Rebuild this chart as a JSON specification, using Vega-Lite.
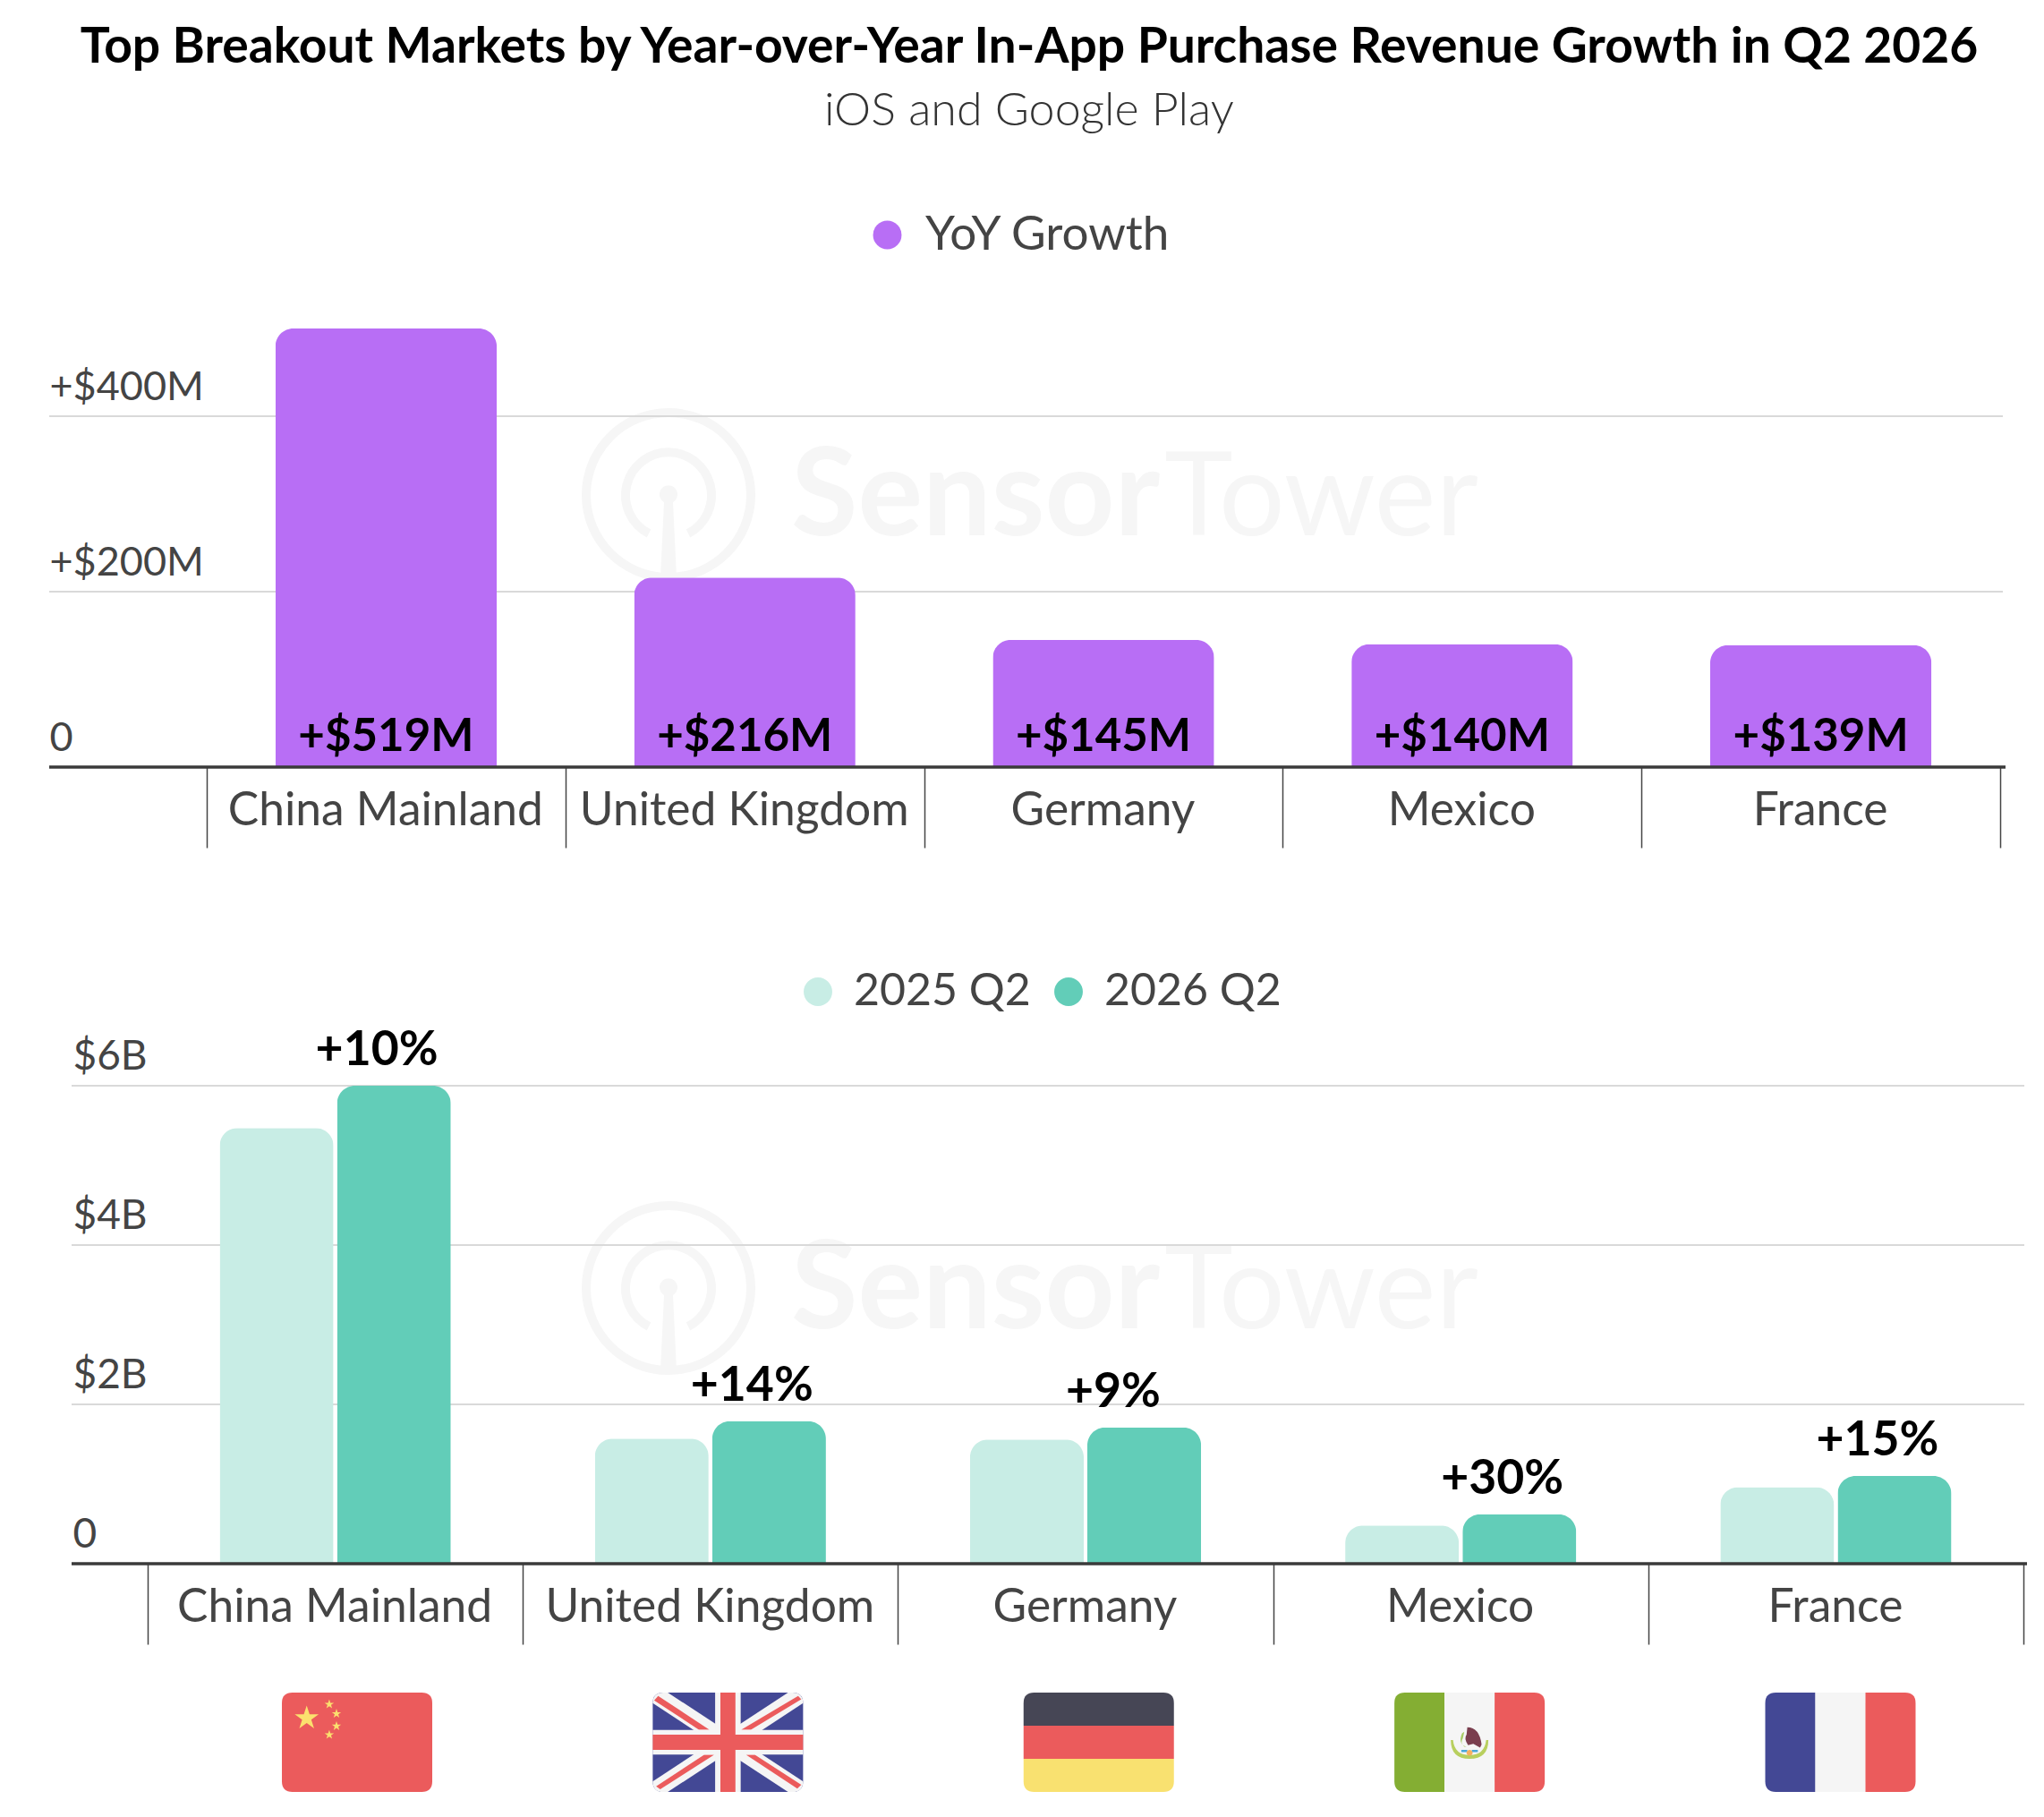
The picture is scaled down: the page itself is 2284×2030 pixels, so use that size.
{
"$schema":"https://vega.github.io/schema/vega-lite/v6.json",
"width":2284,"height":2030,"padding":0,"autosize":{"type":"none"},
"background":"white",
"config":{"view":{"stroke":null},"font":"Lato","text":{"font":"Lato"}},
"title":{"text":"Top Breakout Markets by Year-over-Year In-App Purchase Revenue Growth in Q2 2026","subtitle":"iOS and Google Play","anchor":"middle","frame":"group","dx":8,"offset":-150,"font":"Lato","fontSize":55.2,"fontWeight":"bold","color":"#000000","subtitleFont":"Lato","subtitleFontSize":52,"subtitleFontWeight":300,"subtitleColor":"#333333","subtitlePadding":18,"limit":2284},
"datasets":{
"yoy":[{"market":"China Mainland","growth":519,"series":"YoY Growth","label":"+$519M"},{"market":"United Kingdom","growth":216,"series":"YoY Growth","label":"+$216M"},{"market":"Germany","growth":145,"series":"YoY Growth","label":"+$145M"},{"market":"Mexico","growth":140,"series":"YoY Growth","label":"+$140M"},{"market":"France","growth":139,"series":"YoY Growth","label":"+$139M"}],
"rev":[{"market":"China Mainland","year":"2025 Q2","revenue":5.47},{"market":"China Mainland","year":"2026 Q2","revenue":6.0,"pct":"+10%"},{"market":"United Kingdom","year":"2025 Q2","revenue":1.57},{"market":"United Kingdom","year":"2026 Q2","revenue":1.79,"pct":"+14%"},{"market":"Germany","year":"2025 Q2","revenue":1.56},{"market":"Germany","year":"2026 Q2","revenue":1.71,"pct":"+9%"},{"market":"Mexico","year":"2025 Q2","revenue":0.48},{"market":"Mexico","year":"2026 Q2","revenue":0.62,"pct":"+30%"},{"market":"France","year":"2025 Q2","revenue":0.96},{"market":"France","year":"2026 Q2","revenue":1.1,"pct":"+15%"}],
"wm":[{"panel":"top","word":"Sensor"},{"panel":"top","word":"Tower"},{"panel":"bottom","word":"Sensor"},{"panel":"bottom","word":"Tower"}],
"gridTop":[{"v":200},{"v":400}],
"gridBottom":[{"v":2},{"v":4},{"v":6}],
"flags":[
{"market":"China Mainland","piece":"cnBase"},{"market":"China Mainland","piece":"cnBig"},{"market":"China Mainland","piece":"cnA"},{"market":"China Mainland","piece":"cnB"},{"market":"China Mainland","piece":"cnC"},{"market":"China Mainland","piece":"cnD"},
{"market":"United Kingdom","piece":"ukBase"},{"market":"United Kingdom","piece":"ukW1"},{"market":"United Kingdom","piece":"ukW2"},{"market":"United Kingdom","piece":"ukNW"},{"market":"United Kingdom","piece":"ukNE"},{"market":"United Kingdom","piece":"ukSW"},{"market":"United Kingdom","piece":"ukSE"},{"market":"United Kingdom","piece":"ukWC"},{"market":"United Kingdom","piece":"ukRC"},
{"market":"Germany","piece":"deTop"},{"market":"Germany","piece":"deMid"},{"market":"Germany","piece":"deBot"},
{"market":"Mexico","piece":"mxL"},{"market":"Mexico","piece":"mxC"},{"market":"Mexico","piece":"mxR"},{"market":"Mexico","piece":"mxWreath"},{"market":"Mexico","piece":"mxEagle"},{"market":"Mexico","piece":"mxSnake"},{"market":"Mexico","piece":"mxBlue"},{"market":"Mexico","piece":"mxDot"},
{"market":"France","piece":"frL"},{"market":"France","piece":"frC"},{"market":"France","piece":"frR"}
]
},
"resolve":{"scale":{"x":"independent","y":"independent","color":"independent"}},
"layer":[
{"data":{"name":"wm"},
 "encoding":{"x":{"datum":0,"type":"quantitative","scale":{"domain":[-1,1],"range":[647,847]},"axis":null},
             "y":{"field":"panel","type":"nominal","scale":{"type":"point","padding":0,"domain":["top","bottom"],"range":[553,1439]},"axis":null}},
 "layer":[
  {"transform":[{"filter":"datum.word==='Sensor'"}],"mark":{"type":"point","filled":false,"opacity":1,"size":40000,"strokeWidth":10,"color":"#F6F6F6","shape":"M0 -.92A.92 .92 0 1 1 0 .92A.92 .92 0 1 1 0 -.92ZM-.22 .43A.48 .48 0 1 1 .22 .43"}},
  {"transform":[{"filter":"datum.word==='Sensor'"}],"mark":{"type":"point","filled":true,"opacity":1,"size":40000,"strokeWidth":0,"color":"#F6F6F6","shape":"M-.05 .08L-.09 .92H.09L.05 .08A.1 .1 0 1 0 -.05 .08Z"}}
 ]},
{"data":{"name":"wm"},
 "encoding":{"x":{"field":"word","type":"nominal","scale":{"type":"point","padding":0,"domain":["Sensor","Tower"],"range":[884,1301]},"axis":null},
             "y":{"field":"panel","type":"nominal","scale":{"type":"point","padding":0,"domain":["top","bottom"],"range":[598,1484]},"axis":null},
             "text":{"field":"word"}},
 "layer":[
  {"transform":[{"filter":"datum.word==='Sensor'"}],"mark":{"type":"text","align":"left","baseline":"alphabetic","font":"Lato","fontWeight":"bold","fontSize":136,"color":"#F6F6F6"}},
  {"transform":[{"filter":"datum.word==='Tower'"}],"mark":{"type":"text","align":"left","baseline":"alphabetic","font":"Lato","fontWeight":400,"fontSize":130,"color":"#F6F6F6"}}
 ]},
{"data":{"name":"gridTop"},"mark":{"type":"rule","stroke":"#D9D9D9","strokeWidth":2},
 "encoding":{"x":{"datum":0,"type":"quantitative","scale":{"domain":[0,1],"range":[55,2238]},"axis":null},"x2":{"datum":1},
  "y":{"field":"v","type":"quantitative","scale":{"domain":[0,500],"range":[857,367]},"axis":null}}},
{"data":{"name":"gridBottom"},"mark":{"type":"rule","stroke":"#D9D9D9","strokeWidth":2},
 "encoding":{"x":{"datum":0,"type":"quantitative","scale":{"domain":[0,1],"range":[80,2262]},"axis":null},"x2":{"datum":1},
  "y":{"field":"v","type":"quantitative","scale":{"domain":[0,6],"range":[1747,1213]},"axis":null}}},
{"data":{"name":"yoy"},
 "encoding":{"x":{"field":"market","type":"nominal","sort":null,
   "scale":{"type":"band","domain":["China Mainland","United Kingdom","Germany","Mexico","France"],"range":[231,2235],"padding":0},
   "axis":{"title":null,"orient":"bottom","offset":-1173,"domain":false,"tickBand":"extent","tickSize":90,"tickColor":"#444444","tickWidth":1.5,"labelAngle":0,"labelFont":"Lato","labelFontSize":51.5,"labelColor":"#444444","labelPadding":-26,"labelOffset":-1,"labelBaseline":"alphabetic","labelOverlap":false,"labelLimit":500}},
  "y":{"field":"growth","type":"quantitative","scale":{"domain":[0,500],"range":[857,367],"clamp":true},
   "axis":{"title":null,"orient":"left","offset":-55,"values":[0,200,400],"grid":false,"domain":false,"ticks":false,"labelAlign":"left","labelPadding":0,"labelBaseline":"alphabetic","labelOffset":-19,"labelFont":"Lato","labelFontSize":45,"labelColor":"#444444","labelExpr":"datum.value===0?'0':'+$'+datum.value+'M'"}}},
 "layer":[
  {"mark":{"type":"bar","width":{"band":0.617},"cornerRadiusTopLeft":20,"cornerRadiusTopRight":20},
   "encoding":{"color":{"field":"series","type":"nominal","scale":{"domain":["YoY Growth"],"range":["#B86EF5"]},
    "legend":{"orient":"none","legendX":965,"legendY":236,"title":null,"symbolType":"circle","symbolSize":1018,"symbolStrokeWidth":0,"symbolOpacity":1,"labelFont":"Lato","labelFontSize":53,"labelColor":"#444444","labelOffset":16,"labelLimit":600}}}},
  {"mark":{"type":"text","font":"Lato","fontWeight":"bold","fontSize":51,"color":"#000000","baseline":"alphabetic","dy":-18},
   "encoding":{"y":{"datum":0,"type":"quantitative"},"text":{"field":"label"}}}
 ]},
{"data":{"name":"yoy"},"mark":{"type":"rule","stroke":"#3A3A3A","strokeWidth":3.5},
 "transform":[{"filter":"datum.market==='France'"}],
 "encoding":{"x":{"datum":0,"type":"quantitative","scale":{"domain":[0,1],"range":[55,2241]},"axis":null},"x2":{"datum":1},
  "y":{"datum":0,"type":"quantitative","scale":{"domain":[0,500],"range":[857,367]},"axis":null}}},
{"data":{"name":"rev"},
 "encoding":{"x":{"field":"market","type":"nominal","sort":null,
   "scale":{"type":"band","domain":["China Mainland","United Kingdom","Germany","Mexico","France"],"range":[165,2261],"padding":0},
   "axis":{"title":null,"orient":"bottom","offset":-283,"domain":false,"tickBand":"extent","tickSize":90,"tickColor":"#444444","tickWidth":1.5,"labelAngle":0,"labelFont":"Lato","labelFontSize":51.5,"labelColor":"#444444","labelPadding":-26,"labelOffset":-1,"labelBaseline":"alphabetic","labelOverlap":false,"labelLimit":500}},
  "y":{"field":"revenue","type":"quantitative","scale":{"domain":[0,6],"range":[1747,1213]},
   "axis":{"title":null,"orient":"left","offset":-81,"values":[0,2,4,6],"grid":false,"domain":false,"ticks":false,"labelAlign":"left","labelPadding":0,"labelBaseline":"alphabetic","labelOffset":-19,"labelFont":"Lato","labelFontSize":46,"labelColor":"#444444","labelExpr":"datum.value===0?'0':'$'+datum.value+'B'"}}},
 "layer":[
  {"mark":{"type":"bar","cornerRadiusTopLeft":20,"cornerRadiusTopRight":20},
   "encoding":{"xOffset":{"field":"year","type":"nominal","scale":{"domain":["2025 Q2","2026 Q2"],"paddingInner":0.0305,"paddingOuter":0.614}},
    "color":{"field":"year","type":"nominal","scale":{"domain":["2025 Q2","2026 Q2"],"range":["#C8EDE5","#62CDB8"]},
    "legend":{"orient":"none","legendX":889,"legendY":1083,"title":null,"direction":"horizontal","columns":2,"symbolType":"circle","symbolSize":1018,"symbolStrokeWidth":0,"symbolOpacity":1,"labelFont":"Lato","labelFontSize":50,"labelColor":"#444444","labelOffset":15,"columnPadding":17,"labelLimit":400}}}},
  {"transform":[{"filter":"datum.pct"}],"mark":{"type":"text","font":"Lato","fontWeight":"bold","fontSize":53.5,"color":"#000000","align":"left","baseline":"alphabetic","dx":-22,"dy":-23},
   "encoding":{"text":{"field":"pct"}}}
 ]},
{"data":{"name":"yoy"},"mark":{"type":"rule","stroke":"#3A3A3A","strokeWidth":3.5},
 "transform":[{"filter":"datum.market==='France'"}],
 "encoding":{"x":{"datum":0,"type":"quantitative","scale":{"domain":[0,1],"range":[80,2265]},"axis":null},"x2":{"datum":1},
  "y":{"datum":0,"type":"quantitative","scale":{"domain":[0,6],"range":[1747,1213]},"axis":null}}},
{"data":{"name":"flags"},"mark":{"type":"point","filled":true,"opacity":1,"size":28224,"strokeWidth":0},
 "encoding":{
  "x":{"field":"market","type":"nominal","scale":{"type":"point","padding":0,"domain":["China Mainland","United Kingdom","Germany","Mexico","France"],"range":[399,2056.5]},"axis":null},
  "y":{"datum":0,"type":"quantitative","scale":{"domain":[-1,1],"range":[2002,1891]},"axis":null},
  "shape":{"field":"piece","type":"nominal","legend":null,"scale":{
   "domain":["cnBase","cnBig","cnA","cnB","cnC","cnD","ukBase","ukW1","ukW2","ukNW","ukNE","ukSW","ukSE","ukWC","ukRC","deTop","deMid","deBot","mxL","mxC","mxR","mxWreath","mxEagle","mxSnake","mxBlue","mxDot","frL","frC","frR"],
   "range":[
   "M-.86 -.661H.86Q1 -.661 1 -.521V.521Q1 .661 .86 .661H-.86Q-1 .661 -1 .521V-.521Q-1 -.661 -.86 -.661Z",
   "M-.67 -.487L-.632 -.372L-.511 -.372L-.609 -.3L-.572 -.185L-.67 -.256L-.768 -.185L-.731 -.3L-.829 -.372L-.708 -.372Z",
   "M-.37 -.57L-.355 -.525L-.308 -.525L-.346 -.497L-.332 -.452L-.37 -.48L-.408 -.452L-.394 -.497L-.432 -.525L-.385 -.525Z",
   "M-.274 -.445L-.259 -.4L-.212 -.4L-.25 -.372L-.236 -.327L-.274 -.355L-.312 -.327L-.298 -.372L-.336 -.4L-.289 -.4Z",
   "M-.274 -.28L-.259 -.235L-.212 -.235L-.25 -.207L-.236 -.162L-.274 -.19L-.312 -.162L-.298 -.207L-.336 -.235L-.289 -.235Z",
   "M-.37 -.165L-.355 -.12L-.308 -.12L-.346 -.092L-.332 -.047L-.37 -.075L-.408 -.047L-.394 -.092L-.432 -.12L-.385 -.12Z",
   "M-.86 -.661H.86Q1 -.661 1 -.521V.521Q1 .661 .86 .661H-.86Q-1 .661 -1 .521V-.521Q-1 -.661 -.86 -.661Z",
   "M-.8 -.661L1 .52Q1 .661 .86 .661H.8L-1 -.52Q-1 -.661 -.86 -.661Z",
   "M.8 -.661L-1 .52Q-1 .661 -.86 .661H-.8L1 -.52Q1 -.661 .86 -.661Z",
   "M-.928 -.616L-.247 -.167H-.386L-.981 -.558Z",
   "M.934 -.616L.976 -.57L.306 -.167H.178Z",
   "M-.955 .585L-.316 .167H-.183L-.9 .624Z",
   "M.242 .167H.359L.976 .566L.923 .616Z",
   "M-.17 -.661H.17V-.165H1V.165H.17V.661H-.17V.165H-1V-.165H-.17Z",
   "M-.1 -.661H.1V-.1H1V.1H.1V.661H-.1V.1H-1V-.1H-.1Z",
   "M-1 -.22V-.521Q-1 -.661 -.86 -.661H.86Q1 -.661 1 -.521V-.22Z",
   "M-1 -.22H1V.22H-1Z",
   "M-1 .22H1V.521Q1 .661 .86 .661H-.86Q-1 .661 -1 .521Z",
   "M-.333 -.661H-.86Q-1 -.661 -1 -.521V.521Q-1 .661 -.86 .661H-.333Z",
   "M-.333 -.661H.333V.661H-.333Z",
   "M.333 -.661H.86Q1 -.661 1 -.521V.521Q1 .661 .86 .661H.333Z",
   "M-.25 -.03Q-.25 .22 0 .22Q.25 .22 .25 -.03L.22 -.03Q.2 .17 0 .17Q-.2 .17 -.22 -.03Z",
   "M-.03 -.2Q.13 -.2 .16 .03L.14 .07L.05 .02L-.02 .04Q-.08 -.05 -.04 -.1Z",
   "M-.1 -.12L-.07 -.14L-.09 -.05Q-.13 .0 -.07 .06L-.04 .06Q-.16 .02 -.1 -.12Z",
   "M-.11 .1H-.03V.13H-.11ZM.03 .1H.11V.13H.03Z",
   "M-.04 .14A.04 .04 0 1 1 .04 .14A.04 .04 0 1 1 -.04 .14Z",
   "M-.333 -.661H-.86Q-1 -.661 -1 -.521V.521Q-1 .661 -.86 .661H-.333Z",
   "M-.333 -.661H.333V.661H-.333Z",
   "M.333 -.661H.86Q1 -.661 1 -.521V.521Q1 .661 .86 .661H.333Z"
   ]}},
  "fill":{"field":"piece","type":"nominal","legend":null,"scale":{
   "domain":["cnBase","cnBig","cnA","cnB","cnC","cnD","ukBase","ukW1","ukW2","ukNW","ukNE","ukSW","ukSE","ukWC","ukRC","deTop","deMid","deBot","mxL","mxC","mxR","mxWreath","mxEagle","mxSnake","mxBlue","mxDot","frL","frC","frR"],
   "range":["#EB5B5C","#FBE06E","#FBE06E","#FBE06E","#FBE06E","#FBE06E","#434895","#F5F5F5","#F5F5F5","#EB5B5C","#EB5B5C","#EB5B5C","#EB5B5C","#F5F5F5","#EB5B5C","#464655","#EB5B5C","#F9E170","#84AE33","#F5F5F5","#EB5B5C","#B8CF5E","#7A3E4E","#A8CC66","#4AA8D8","#F5B060","#434895","#F5F5F5","#EB5B5C"]}}
 }}
]
}
